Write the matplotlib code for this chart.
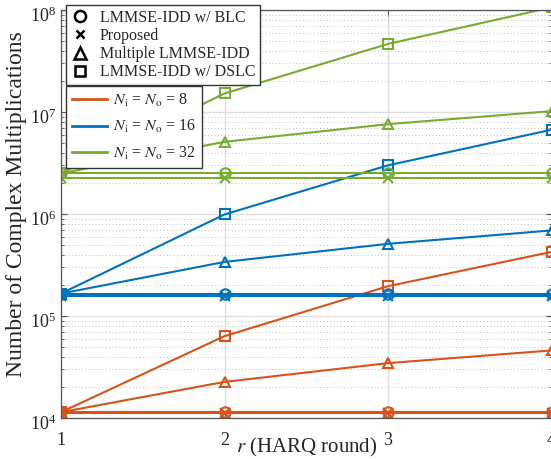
import matplotlib
matplotlib.use("Agg")
import matplotlib.pyplot as plt
from matplotlib.lines import Line2D
from matplotlib.ticker import LogLocator, NullFormatter
from matplotlib.transforms import ScaledTranslation

plt.rcParams['font.family'] = ['Liberation Serif', 'DejaVu Serif']
plt.rcParams['mathtext.fontset'] = 'stix'

# HARQ rounds
r = [1, 2, 3, 4]

# N_i = N_o = 8
blc8 = [1.14e4, 1.14e4, 1.14e4, 1.14e4]
prop8 = [1.11e4, 1.11e4, 1.11e4, 1.11e4]
mult8 = [1.14e4, 2.26e4, 3.45e4, 4.6e4]
dslc8 = [1.14e4, 6.35e4, 1.96e5, 4.25e5]

# N_i = N_o = 16
blc16 = [1.66e5, 1.66e5, 1.66e5, 1.66e5]
prop16 = [1.58e5, 1.58e5, 1.58e5, 1.58e5]
mult16 = [1.66e5, 3.39e5, 5.1e5, 6.9e5]
dslc16 = [1.66e5, 9.9e5, 3.0e6, 6.7e6]

# N_i = N_o = 32
blc32 = [2.5e6, 2.5e6, 2.5e6, 2.5e6]
prop32 = [2.27e6, 2.27e6, 2.27e6, 2.27e6]
mult32 = [2.5e6, 5.1e6, 7.6e6, 1.02e7]
dslc32 = [2.5e6, 1.52e7, 4.65e7, 1.06e8]

sizes = ['8', '16', '32']
colores = ['#D95319', '#0072BD', '#77AC30']
series = [(blc8, prop8, mult8, dslc8),
          (blc16, prop16, mult16, dslc16),
          (blc32, prop32, mult32, dslc32)]

fig = plt.figure(figsize=(5.51, 4.59), dpi=100)
ax = fig.add_axes([61/551, 41/459, 490.5/551, 408/459])

tc = '#262626'
for (blc, prop, mult, dslc), c in zip(series, colores):
    kw = dict(color=c, lw=1.5, mfc='none', mew=1.5, ms=7.5)
    ax.plot(r, blc, marker='o', **kw)
    ax.plot(r, prop, marker='x', **kw)
    ax.plot(r, mult, marker='^', **kw)
    ax.plot(r, dslc, marker='s', ms=6.5, color=c, lw=1.5, mfc='none', mew=1.5)

ax.set_yscale('log')
ax.set_xlim(1, 4)
ax.set_ylim(1e4, 1e8)
ax.set_xticks(r)
ax.yaxis.set_minor_locator(LogLocator(base=10, subs=range(2, 10)))
ax.yaxis.set_minor_formatter(NullFormatter())

ax.grid(True, which='major', color='#dedede', lw=1.0, ls='-')
ax.grid(True, which='minor', axis='y', color='#bdbdbd', lw=0.7, ls=(0, (1, 2.5)))
ax.set_axisbelow(True)

for s in ax.spines.values():
    s.set_color('#555555')
    s.set_linewidth(0.9)
ax.tick_params(which='both', direction='in', top=True, right=True, colors='#555555',
               labelcolor=tc, labelsize=13)
ax.tick_params(which='major', length=4)
ax.tick_params(axis='x', pad=10)
ax.tick_params(which='minor', length=2)

# bajar un poco las etiquetas del eje y (como en MATLAB)
off = ScaledTranslation(0, -4/100, fig.dpi_scale_trans)
for lab in ax.get_yticklabels():
    lab.set_transform(lab.get_transform() + off)

ax.set_xlabel(r'$r$ (HARQ round)', fontsize=15, color=tc)
ax.xaxis.set_label_coords(0.5, -0.044)
ax.set_ylabel('Number of Complex Multiplications', fontsize=17, color=tc)
ax.yaxis.set_label_coords(-0.07, 0.525)

# leyenda de marcadores
mk = [Line2D([], [], color='k', ls='none', marker=m, mfc='none', mew=1.8, ms=ms)
      for m, ms in [('o', 8), ('x', 6), ('^', 8.5), ('s', 6.5)]]
leg1 = fig.legend(mk, ['LMMSE-IDD w/ BLC', 'Proposed', 'Multiple LMMSE-IDD', 'LMMSE-IDD w/ DSLC'],
                  loc='upper left', bbox_to_anchor=(66/551, 1 - 5/459), borderaxespad=0,
                  fontsize=11.5, frameon=True, fancybox=False, edgecolor='#333333',
                  framealpha=1, handlelength=1.1, handletextpad=0.7, labelspacing=0.14,
                  borderpad=0.3, labelcolor=tc)
leg1.get_frame().set_linewidth(1.0)

# leyenda de colores
ln = [Line2D([], [], color=c, lw=2) for c in colores]
labs = [r'$N_\mathrm{i}$ = $N_\mathrm{o}$ = ' + n for n in sizes]
leg2 = fig.legend(ln, labs, loc='upper left', bbox_to_anchor=(66/551, 1 - 86/459), borderaxespad=0,
                  fontsize=11.5, frameon=True, fancybox=False, edgecolor='#333333',
                  framealpha=1, handlelength=2.2, handletextpad=0.4, labelspacing=0.6,
                  borderpad=0.35, labelcolor=tc)
leg2.get_frame().set_linewidth(1.0)

fig.savefig('out.png', dpi=100)
